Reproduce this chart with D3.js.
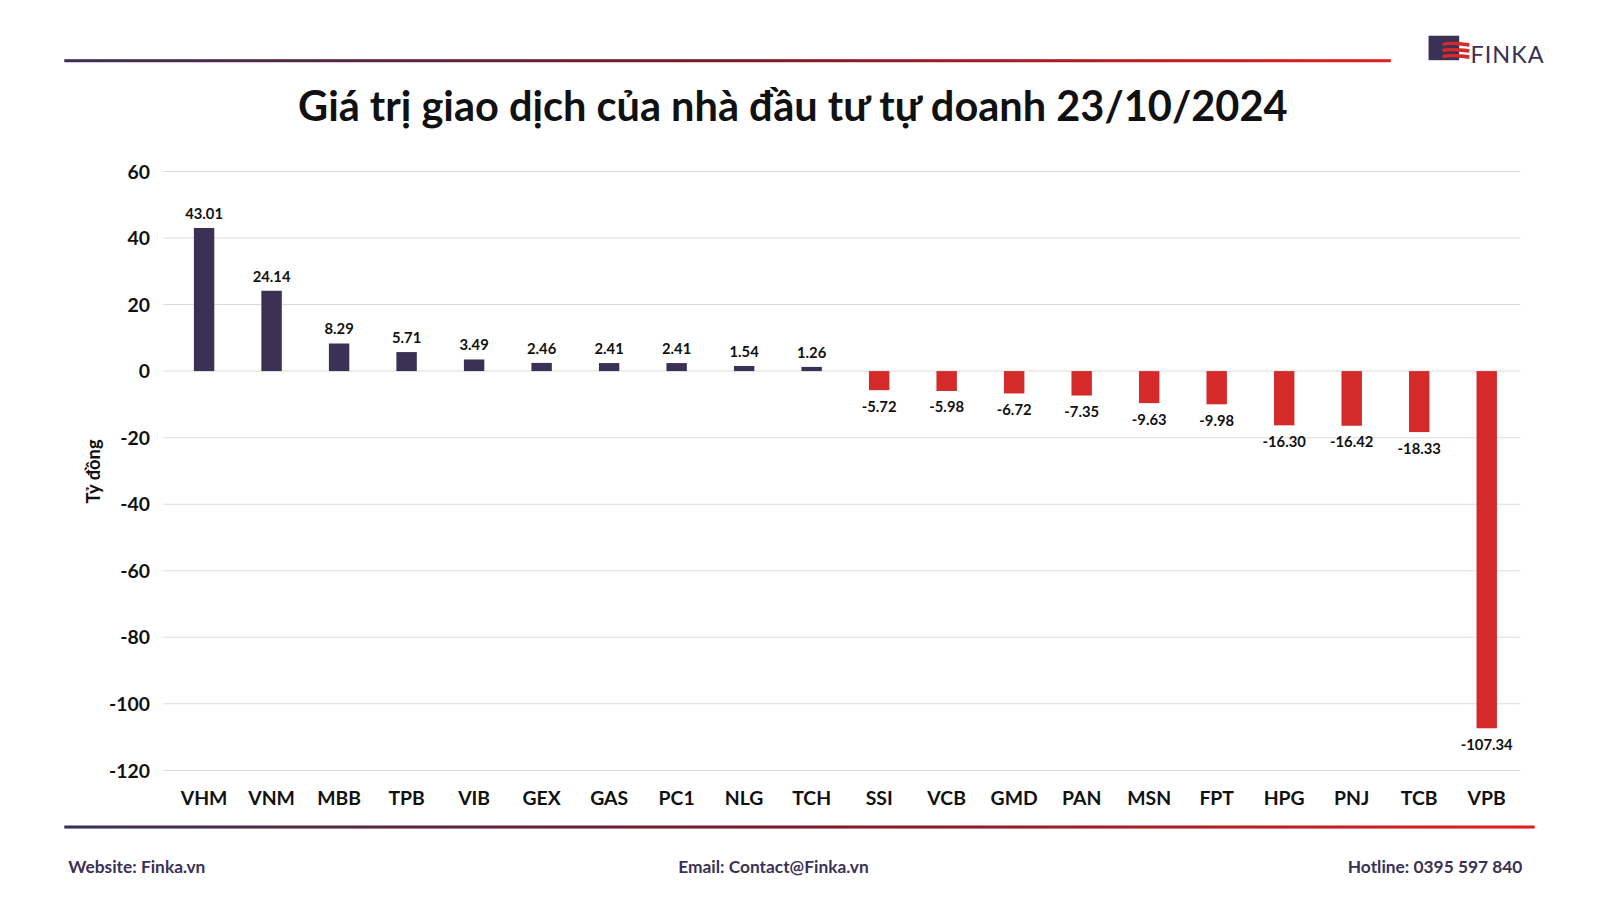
<!DOCTYPE html>
<html><head><meta charset="utf-8">
<script src="https://cdn.jsdelivr.net/npm/d3@7"></script>
<style>body{margin:0;background:#fff;font-family:Lato,"Open Sans",sans-serif}</style>
</head><body><svg id="chart" width="1600" height="900"></svg>
<script>
// data
let tickers = ['VHM','VNM','MBB','TPB','VIB','GEX','GAS','PC1','NLG','TCH','SSI','VCB','GMD','PAN','MSN','FPT','HPG','PNJ','TCB','VPB']
let values = [43.01,24.14,8.29,5.71,3.49,2.46,2.41,2.41,1.54,1.26,-5.72,-5.98,-6.72,-7.35,-9.63,-9.98,-16.30,-16.42,-18.33,-107.34]
let yTicks = [60,40,20,0,-20,-40,-60,-80,-100,-120]

const svg = d3.select('#chart').append('g').attr('transform','scale(1.0204)')
const defs = svg.append('defs')
const grad = defs.append('linearGradient').attr('id','line')
grad.append('stop').attr('offset','0%').attr('stop-color','#3b3155')
grad.append('stop').attr('offset','50%').attr('stop-color','#7a1a2a')
grad.append('stop').attr('offset','100%').attr('stop-color','#e02020')

// header / footer lines
svg.append('rect').attr('x',63).attr('y',58).attr('width',1300).attr('height',3).attr('fill','url(#line)')
svg.append('rect').attr('x',63).attr('y',809).attr('width',1441).attr('height',3).attr('fill','url(#line)')

// logo
svg.append('rect').attr('x',1400).attr('y',35).attr('width',30).attr('height',24).attr('fill','#3b3155')
for (let i = 0; i < 3; i++) {
    svg.append('path').attr('d',`M1414 ${44+i*6} q4 -3 26 0`).attr('stroke','#d42a2a').attr('stroke-width',3.5).attr('fill','none')
}
svg.append('text').attr('x',1441).attr('y',62).text('FINKA').attr('font-size',23).attr('fill','#3b3155').attr('letter-spacing',1)

svg.append('text').attr('x',777).attr('y',119).attr('text-anchor','middle')
    .attr('font-size',40.7).attr('font-weight','bold').attr('fill','#111')
    .text('Giá trị giao dịch của nhà đầu tư tự doanh 23/10/2024')

const x = d3.scalePoint().domain(tickers).range([200,1457])
const bw = 20
const y = d3.scaleLinear().domain([-120,60]).range([755,168])

// gridlines + y labels
svg.append('g').selectAll('line').data(yTicks).enter().append('line')
    .attr('x1',160).attr('x2',1490).attr('y1',d => y(d)).attr('y2',d => y(d))
    .attr('stroke','#dcdcdc')
svg.append('g').selectAll('text').data(yTicks).enter().append('text')
    .attr('x',147).attr('y',d => y(d)+7).attr('text-anchor','end')
    .attr('font-size',19).attr('font-weight','bold').attr('fill','#111').text(d => d)

svg.append('text').attr('transform','translate(98,462) rotate(-90)').attr('text-anchor','middle')
    .attr('font-size',18).attr('font-weight','bold').attr('fill','#111').text('Tỷ đồng')

svg.append('g').selectAll('rect').data(values).enter().append('rect')
    .attr('x',(d,i) => x(tickers[i]) - bw/2).attr('width',bw)
    .attr('y',d => y(Math.max(0,d))).attr('height',d => Math.abs(y(d)-y(0)))
    .attr('fill',d => d >= 0 ? '#3b3155' : '#d42a2a')

svg.append('g').selectAll('text').data(values).enter().append('text')
    .attr('x',(d,i) => x(tickers[i]))
    .attr('y',d => d >= 0 ? y(d)-9 : y(d)+21)
    .attr('text-anchor','middle').attr('font-size',14.5).attr('font-weight','bold').attr('fill','#111')
    .text(d => d.toFixed(2))

svg.append('g').selectAll('text').data(tickers).enter().append('text')
    .attr('x',d => x(d)).attr('y',789).attr('text-anchor','middle')
    .attr('font-size',19).attr('font-weight','bold').attr('fill','#111').text(d => d)

// footer text
const foot = [['Website: Finka.vn',67,'start'],['Email: Contact@Finka.vn',758,'middle'],['Hotline: 0395 597 840',1492,'end']]
svg.append('g').selectAll('text').data(foot).enter().append('text')
    .attr('x',d => d[1]).attr('y',856).attr('text-anchor',d => d[2])
    .attr('font-size',17).attr('font-weight','bold').attr('fill','#3b3155').text(d => d[0])
</script></body></html>
